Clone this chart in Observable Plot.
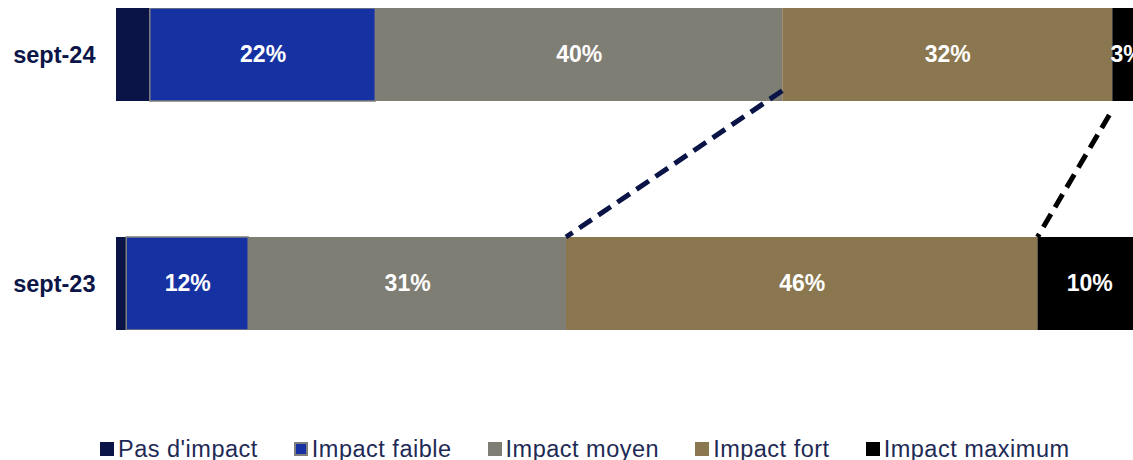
<!DOCTYPE html>
<html>
<head>
<meta charset="utf-8">
<script src="https://cdn.jsdelivr.net/npm/d3@7"></script>
<script src="https://cdn.jsdelivr.net/npm/@observablehq/plot@0.6"></script>
<style>
  html, body { margin: 0; padding: 0; background: #fff; overflow: hidden; }
  body { width: 1133px; height: 460px; position: relative; font-family: "Liberation Sans", Arial, sans-serif; }
  #chart svg g[aria-label^="y-axis"] text { font-size: 23.5px; font-weight: bold; fill: #0b1547; }
  #legend { position: absolute; left: 100px; top: 434px; display: flex; align-items: center; height: 30px; white-space: nowrap; }
  .item { display: flex; align-items: center; margin-right: 36px; }
  .sw { width: 14px; height: 14px; box-sizing: border-box; margin-right: 4px; }
  .lab { font-size: 23.5px; letter-spacing: 0.5px; color: #1e2a55; line-height: 30px; }
</style>
</head>
<body>
<div id="chart"></div>
<div id="legend"></div>
<script>
// ---- data ----
const periods = ["sept-24", "sept-23"];
const categories = ["Pas d'impact", "Impact faible", "Impact moyen", "Impact fort", "Impact maximum"];
const colors = ["#0a1446", "#1632a2", "#7f7e74", "#8b774f", "#000000"];
const valuesSept24 = [3.3, 22.0, 39.7, 32.2, 2.8];
const valuesSept23 = [1.0, 11.9, 31.0, 46.0, 10.1];

const series = {"sept-24": valuesSept24, "sept-23": valuesSept23};
const data = [];
for (const p of periods) categories.forEach((c, i) => data.push({period: p, category: c, value: series[p][i]}));

const cum = arr => arr.reduce((a, v) => (a.push((a.length ? a[a.length - 1] : 0) + v), a), []);
const cum24 = cum(valuesSept24), cum23 = cum(valuesSept23);

// dashed connectors between the two bars (boundary before "Impact fort" and before "Impact maximum")
function connectors(index, scales) {
  const x = scales.x, y = scales.y;
  const bw = typeof y.bandwidth === "function" ? y.bandwidth() : y.bandwidth;
  const top24 = y("sept-24"), top23 = y("sept-23");
  const g = d3.create("svg:g").attr("fill", "none").attr("stroke-width", 5).attr("stroke-dasharray", "15,8");
  g.append("line")
    .attr("x1", x(cum24[2])).attr("y1", top24 + bw * 0.89)
    .attr("x2", x(cum23[2])).attr("y2", top23)
    .attr("stroke", colors[0]);
  g.append("line")
    .attr("x1", x(cum24[3]) - 3).attr("y1", top24 + bw + 14)
    .attr("x2", x(cum23[3])).attr("y2", top23)
    .attr("stroke", colors[4]);
  return g.node();
}

const plot = Plot.plot({
  width: 1133,
  height: 430,
  marginLeft: 116,
  marginRight: -8,
  marginTop: 8,
  marginBottom: 100,
  style: {fontFamily: "Liberation Sans, Arial, sans-serif", background: "white", overflow: "hidden"},
  x: {domain: [0, 100], axis: null},
  y: {domain: periods, paddingInner: 0.594, paddingOuter: 0, tickSize: 0, tickPadding: 21, label: null},
  color: {domain: categories, range: colors},
  marks: [
    Plot.barX(data, Plot.stackX({
      x: "value", y: "period", fill: "category", z: "category", order: categories,
      stroke: "#7f7f7f", strokeWidth: 1.5,
      strokeOpacity: d => d.category === "Impact faible" ? 1 : 0,
      clip: true
    })),
    Plot.text(data, Plot.stackX({
      x: "value", y: "period", z: "category", order: categories,
      text: d => d.category === "Pas d'impact" ? null : `${Math.round(d.value)}%`,
      fill: "white", fontSize: 23, fontWeight: "bold", clip: true
    })),
    connectors
  ]
});
document.getElementById("chart").appendChild(plot);

// legend built from the plot's color scale
const cs = plot.scale("color");
const legend = document.getElementById("legend");
cs.domain.forEach((c, i) => {
  const item = document.createElement("div");
  item.className = "item";
  const sw = document.createElement("div");
  sw.className = "sw";
  sw.style.background = cs.range[i];
  if (c === "Impact faible") sw.style.border = "2px solid #7f7f7f";
  const lab = document.createElement("span");
  lab.className = "lab";
  lab.textContent = c;
  item.appendChild(sw); item.appendChild(lab);
  legend.appendChild(item);
});
</script>
</body>
</html>
